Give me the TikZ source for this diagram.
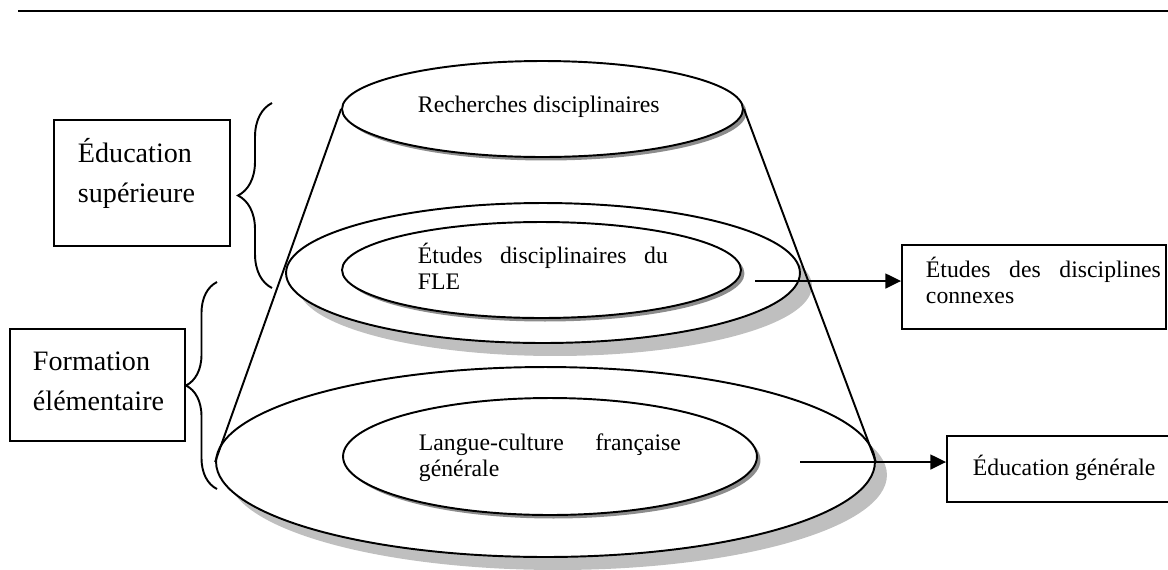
\documentclass[tikz,border=0pt]{standalone}
\usepackage{fontspec}
\setmainfont{Liberation Serif}
\usetikzlibrary{shapes.geometric,shadows,arrows.meta,decorations.pathreplacing}

\begin{document}
\begin{tikzpicture}[x=0.02cm,y=-0.02cm,line width=1.1pt,
  disc/.style={ellipse,draw,fill=white,inner sep=0pt},
  bigshadow/.style={drop shadow={shadow xshift=0.24cm,shadow yshift=-0.26cm,fill=black!25,opacity=1}},
  smallshadow/.style={drop shadow={shadow xshift=0.07cm,shadow yshift=-0.07cm,fill=black!45,opacity=1}},
  lbl/.style={anchor=base west,inner sep=0pt,align=left,font=\fontsize{13.5}{15.2}\selectfont},
  sidebox/.style={draw,rectangle,inner sep=0pt},
  sidelbl/.style={anchor=base west,inner sep=0pt,align=left,font=\fontsize{16}{23}\selectfont},
  arr/.style={-{Triangle[length=9pt,width=8.5pt]}}]
\useasboundingbox (0,0) rectangle (1168,569);
\draw[line width=1.3pt] (18,11) -- (1168,11);
% the cone of ellipses
\node[disc,smallshadow,minimum width=8.02cm,minimum height=1.92cm] (rech) at (542.5,109) {};
\node[disc,bigshadow,minimum width=10.28cm,minimum height=2.8cm] (etudesout) at (543,273) {};
\node[disc,smallshadow,minimum width=7.98cm,minimum height=1.92cm] (etudes) at (541.5,270) {};
\node[disc,bigshadow,minimum width=13.18cm,minimum height=3.8cm] (baseout) at (545.5,462) {};
\node[disc,smallshadow,minimum width=8.28cm,minimum height=2.34cm] (langue) at (550,456.5) {};
\draw (rech.west) -- (baseout.west);
\draw (rech.east) -- (baseout.east);
\node[lbl] (rechtxt) at (417,112) {Recherches disciplinaires};
\node[lbl,text width=5cm] (etudestxt) at (417,263) {Études\hfill disciplinaires\hfill du\\FLE};
\node[lbl,text width=5.24cm] (languetxt) at (418,450) {Langue-culture\hfill française\\générale};
% boxes on the left
\node[sidebox,minimum width=3.52cm,minimum height=2.52cm] (sup) at (142,183) {};
\node[sidelbl,text width=3cm] (suptxt) at (77,162) {Éducation\\supérieure};
\node[sidebox,minimum width=3.5cm,minimum height=2.24cm] (elem) at (97.5,385) {};
\node[sidelbl,text width=3cm] (elemtxt) at (32,370) {Formation\\élémentaire};
\draw[decorate,decoration={brace,amplitude=0.68cm}] (272,288) -- (272,103);
\draw[decorate,decoration={brace,amplitude=0.62cm}] (217,489) -- (217,282);
% boxes on the right
\node[sidebox,minimum width=5.28cm,minimum height=1.68cm] (conn) at (1034,287) {};
\node[lbl,text width=4.7cm] (conntxt) at (925,277) {Études\hfill des\hfill disciplines\\connexes};
\node[sidebox,minimum width=4.5cm,minimum height=1.32cm] (gen) at (1059.5,469) {};
\node[lbl] (gentxt) at (972,475) {Éducation générale};
\coordinate (from1) at (755,281);
\coordinate (from2) at (800,462);
\draw[arr] (from1) -- (from1 -| conn.west);
\draw[arr] (from2) -- (from2 -| gen.west);
\end{tikzpicture}
\end{document}
